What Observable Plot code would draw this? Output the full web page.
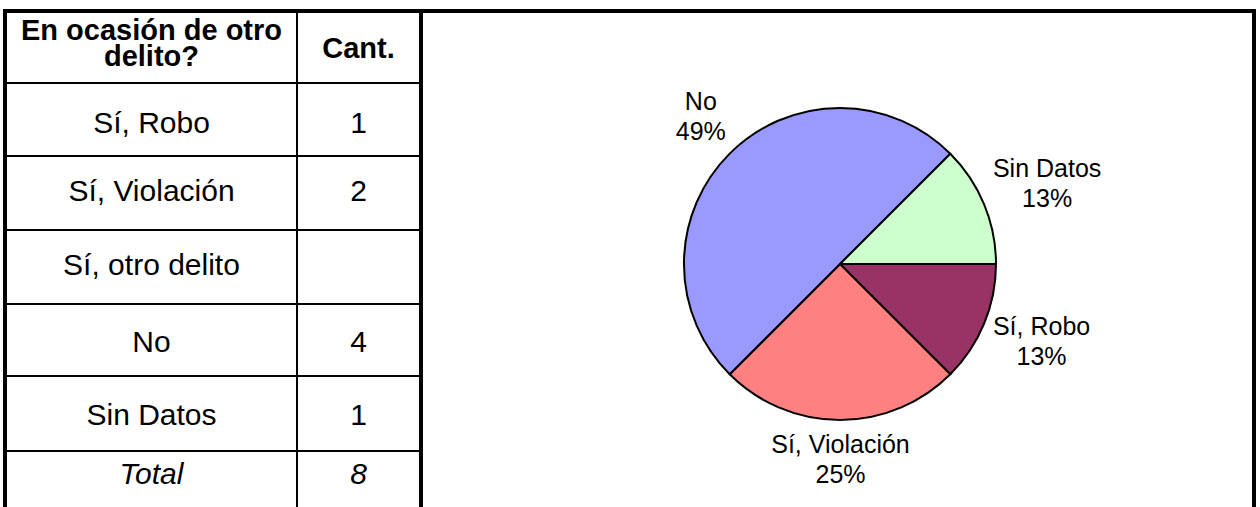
<!DOCTYPE html>
<html>
<head>
<meta charset="utf-8">
<script src="https://cdn.jsdelivr.net/npm/d3@7"></script>
<script src="https://cdn.jsdelivr.net/npm/@observablehq/plot@0.6"></script>
<style>
  html, body { margin: 0; padding: 0; background: #fff; }
  body { width: 1260px; height: 507px; overflow: hidden; position: relative;
         font-family: "Liberation Sans", Arial, sans-serif; color: #000; }
  .line { position: absolute; background: #000; }
  .cell { position: absolute; text-align: center; font-size: 30px; line-height: 34px; white-space: nowrap; }
  .cell span { display: inline-block; }
  .hdr { font-weight: bold; font-size: 29px; }
  .it { font-style: italic; }
  #pie { position: absolute; left: 423px; top: 13px; }
</style>
</head>
<body>
<div id="root"></div>
<div id="pie"></div>
<script>
// ---- data ----
const headerLabels = ["En ocasión de otro\ndelito?", "Cant."];
const categories = ["Sí, Robo", "Sí, Violación", "Sí, otro delito", "No", "Sin Datos"];
const counts = [1, 2, null, 4, 1];
const percentLabels = ["13%", "25%", "", "49%", "13%"];
const totalLabel = "Total";
const totalCount = 8;
const palette = ["#993366", "#FF8080", "#FFFFCC", "#9999FF", "#CCFFCC"];

// ---- table layout ----
const root = document.getElementById("root");
function el(cls, css, html) {
  const d = document.createElement("div");
  d.className = cls;
  Object.assign(d.style, css);
  if (html !== undefined) d.innerHTML = html;
  root.appendChild(d);
  return d;
}
// frame
el("line", {left: "3px", top: "9px", width: "1253px", height: "4px"});
el("line", {left: "3px", top: "9px", width: "4px", height: "520px"});
el("line", {left: "1252px", top: "9px", width: "4px", height: "520px"});
el("line", {left: "419px", top: "9px", width: "4px", height: "520px"});
el("line", {left: "296px", top: "13px", width: "2px", height: "520px"});
const hLines = [82, 155, 229, 303, 375, 450];
hLines.forEach(y => el("line", {left: "7px", top: y + "px", width: "412px", height: "2px"}));

const col1 = {left: 7, width: 289};
const col2 = {left: 298, width: 121};
function cell(col, centerY, text, extra, lh) {
  lh = lh || 34;
  const lines = text.split("\n");
  const h = lh * lines.length;
  return el("cell " + (extra || ""), {left: col.left + "px", width: col.width + "px",
     top: (centerY - h / 2) + "px", height: h + "px", lineHeight: lh + "px"},
     "<span>" + lines.join("<br>") + "</span>");
}
cell(col1, 43, headerLabels[0], "hdr", 26);
cell(col2, 48, headerLabels[1], "hdr", 26);
const rowCenters = [123, 191, 265, 342, 415];
categories.forEach((c, i) => {
  cell(col1, rowCenters[i], c);
  cell(col2, rowCenters[i], counts[i] == null ? "" : String(counts[i]));
});
cell(col1, 474, totalLabel, "it");
cell(col2, 474, String(totalCount), "it");

// ---- pie ----
const W = 829, H = 494, cx = 417, cy = 251, R = 156, gap = 9, hh = 30;
const pieData = categories.map((c, i) => ({cat: c, value: counts[i] ?? 0, pct: percentLabels[i]}));
const arcs = d3.pie().value(d => d.value).sort(null)
  .startAngle(Math.PI / 2).endAngle(Math.PI / 2 + 2 * Math.PI)(pieData)
  .filter(a => a.data.value > 0);
const color = Plot.scale({color: {type: "ordinal", domain: categories, range: palette}});
const arcGen = d3.arc().innerRadius(0).outerRadius(R);

function pieMark() {
  const g = d3.create("svg:g").attr("transform", `translate(${cx},${cy})`);
  g.selectAll("path").data(arcs).join("path")
    .attr("d", arcGen)
    .attr("fill", a => color.apply(a.data.cat))
    .attr("stroke", "#000")
    .attr("stroke-width", 2)
    .attr("stroke-linejoin", "round");
  return g.node();
}

const ctx = document.createElement("canvas").getContext("2d");
ctx.font = "25px 'Liberation Sans', Arial, sans-serif";
const clamp = v => Math.max(-1, Math.min(1, v));
const labelData = arcs.map(a => {
  const ang = (a.startAngle + a.endAngle) / 2;
  const dx = Math.sin(ang), dy = -Math.cos(ang);
  const text = a.data.cat + "\n" + a.data.pct;
  const hw = d3.max(text.split("\n"), s => ctx.measureText(s).width) / 2;
  return {text, x: cx + (R + gap) * dx + hw * clamp(1.3 * dx),
          y: cy - 3 + (R + gap + 2) * dy + hh * clamp(1.3 * dy)};
});

const chart = Plot.plot({
  width: W, height: H, margin: 0,
  x: {type: "identity", axis: null},
  y: {type: "identity", axis: null},
  style: {fontFamily: "'Liberation Sans', Arial, sans-serif", background: "transparent", color: "#000"},
  marks: [
    pieMark,
    Plot.text(labelData, {x: "x", y: "y", text: "text", fontSize: 25, lineHeight: 1.2,
      textAnchor: "middle", lineAnchor: "middle", fill: "#000"})
  ]
});
document.getElementById("pie").appendChild(chart);
</script>
</body>
</html>
